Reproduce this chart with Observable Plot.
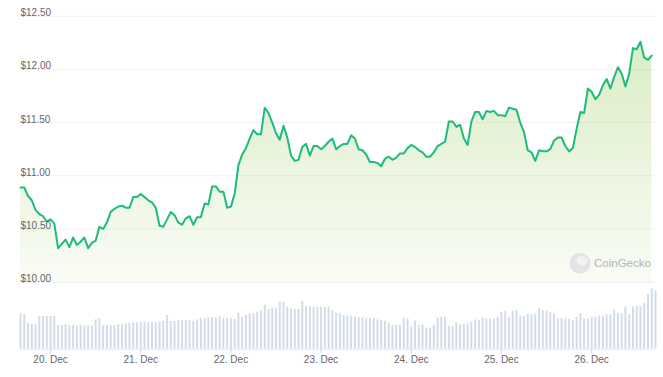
<!DOCTYPE html>
<html><head><meta charset="utf-8">
<script src="https://cdn.jsdelivr.net/npm/d3@7"></script>
<script src="https://cdn.jsdelivr.net/npm/@observablehq/plot@0.6"></script>
<style>
body{margin:0;background:#fff;font-family:"Liberation Sans",Arial,sans-serif}
#chart svg{display:block}
</style>
</head><body><div id="chart"></div>
<script>
// hourly series starting 19 Dec 16:00 UTC
const startUTC = Date.UTC(2023, 11, 19, 16);
const prices = [
10.89,10.89,10.81,10.77,10.68,10.64,10.62,10.57,10.59,10.55,
10.32,10.36,10.40,10.33,10.42,10.35,10.38,10.42,10.32,10.37,
10.39,10.52,10.50,10.56,10.66,10.69,10.71,10.72,10.70,10.70,
10.80,10.80,10.83,10.80,10.77,10.75,10.70,10.53,10.52,10.59,
10.66,10.63,10.56,10.54,10.60,10.62,10.54,10.61,10.61,10.74,
10.73,10.90,10.90,10.85,10.85,10.70,10.71,10.83,11.10,11.20,
11.26,11.35,11.43,11.39,11.39,11.64,11.59,11.50,11.40,11.34,
11.47,11.36,11.19,11.14,11.15,11.27,11.30,11.19,11.28,11.28,
11.25,11.28,11.32,11.35,11.25,11.28,11.30,11.30,11.38,11.35,
11.25,11.24,11.20,11.13,11.13,11.12,11.09,11.16,11.18,11.15,
11.17,11.21,11.21,11.26,11.29,11.27,11.24,11.22,11.18,11.18,
11.22,11.28,11.30,11.32,11.51,11.51,11.46,11.48,11.35,11.29,
11.51,11.60,11.60,11.53,11.61,11.60,11.61,11.57,11.57,11.56,
11.64,11.63,11.62,11.50,11.41,11.24,11.22,11.14,11.24,11.23,
11.23,11.25,11.33,11.36,11.36,11.28,11.23,11.26,11.44,11.60,
11.59,11.82,11.79,11.72,11.76,11.85,11.91,11.82,11.93,12.02,
11.96,11.84,11.96,12.20,12.19,12.26,12.11,12.09,12.13
];
const volumes = [
106,104,78,74,74,98,98,98,98,98,
71,71,74,71,71,69,71,69,69,69,
88,91,71,71,71,71,74,74,76,78,
79,79,81,81,79,79,79,81,83,101,
83,83,86,86,86,86,84,88,91,91,
94,94,93,98,93,93,91,89,108,96,
102,106,106,111,114,132,118,123,123,141,
141,126,121,119,119,143,128,126,126,126,
126,126,126,116,108,106,101,99,99,96,
94,94,93,93,93,88,86,84,79,71,
71,71,91,91,66,84,71,73,63,63,
71,93,96,96,68,68,78,73,74,76,
81,88,86,93,91,91,91,96,111,114,
96,113,116,98,98,104,104,106,121,116,
114,109,106,91,91,91,89,86,96,106,
91,91,96,96,99,99,103,104,118,108,
106,126,103,126,128,128,138,164,181,174
];
const priceTicks = [10, 10.5, 11, 11.5, 12, 12.5];
const dayTicks = ["2023-12-20","2023-12-21","2023-12-22","2023-12-23","2023-12-24","2023-12-25","2023-12-26"];

const HOUR = 3600e3;
const priceData = prices.map((p, i) => ({t: new Date(startUTC + i * HOUR), p}));
const volData = volumes.map((v, i) => ({t: new Date(startUTC + i * HOUR), v}));
const xDomain = [new Date(startUTC), new Date(startUTC + 169 * HOUR)];
const dayDates = dayTicks.map(d => new Date(d + "T00:00:00Z"));

const NS = "http://www.w3.org/2000/svg";
function gradientDefs(index, scales, values, dims) {
  const defs = document.createElementNS(NS, "defs");
  const g = document.createElementNS(NS, "linearGradient");
  g.setAttribute("id", "pg");
  g.setAttribute("gradientUnits", "userSpaceOnUse");
  g.setAttribute("x1", 0); g.setAttribute("x2", 0);
  g.setAttribute("y1", scales.y(12.5)); g.setAttribute("y2", scales.y(10));
  [[0, 0.34], [1, 0.05]].forEach(([o, a]) => {
    const s = document.createElementNS(NS, "stop");
    s.setAttribute("offset", o);
    s.setAttribute("stop-color", "#8dc647");
    s.setAttribute("stop-opacity", a);
    g.appendChild(s);
  });
  defs.appendChild(g);
  return defs;
}
function watermark(index, scales, values, dims) {
  const g = document.createElementNS(NS, "g");
  const rx = dims.width - dims.marginRight, by = dims.height - dims.marginBottom;
  const c = document.createElementNS(NS, "circle");
  c.setAttribute("cx", rx - 75); c.setAttribute("cy", by - 18.5); c.setAttribute("r", 10.5);
  c.setAttribute("fill", "#e4e4e4");
  g.appendChild(c);
  const c2 = document.createElementNS(NS, "ellipse");
  c2.setAttribute("cx", rx - 73); c2.setAttribute("cy", by - 21); c2.setAttribute("rx", 5.5); c2.setAttribute("ry", 4.5);
  c2.setAttribute("fill", "#f2f2f2");
  g.appendChild(c2);
  const t = document.createElementNS(NS, "text");
  t.setAttribute("x", rx - 61); t.setAttribute("y", by - 14.5);
  t.setAttribute("text-anchor", "start");
  t.setAttribute("font-size", 11.5); t.setAttribute("fill", "#b3b3b3");
  t.textContent = "CoinGecko";
  g.appendChild(t);
  return g;
}

const chartStyle = {fontFamily: '"Liberation Sans", Arial, sans-serif', fontSize: "10px", color: "#666", background: "#fff"};

const pricePlot = Plot.plot({
  width: 663, height: 284,
  marginLeft: 20, marginRight: 8, marginTop: 15.7, marginBottom: 2.3,
  style: chartStyle,
  x: {type: "utc", domain: xDomain, axis: null},
  y: {domain: [10, 12.5], axis: null},
  marks: [
    gradientDefs,
    Plot.ruleY(priceTicks.filter(d => d !== 10), {stroke: "#f0f0f0"}),
    Plot.ruleY([10], {stroke: "#e8ecf3"}),
    Plot.areaY(priceData, {x: "t", y1: 10, y2: "p", fill: "url(#pg)"}),
    Plot.lineY(priceData, {x: "t", y: "p", stroke: "#1dbb7c", strokeWidth: 2, strokeLinejoin: "round"}),
    Plot.text(priceTicks, {y: d => d, text: d => "$" + d.toFixed(2), frameAnchor: "left", textAnchor: "start", lineAnchor: "bottom", dy: 0, fill: "#666"}),
    watermark
  ]
});

const volumePlot = Plot.plot({
  width: 663, height: 93,
  marginLeft: 20, marginRight: 8, marginTop: 0, marginBottom: 28.3,
  style: chartStyle,
  x: {type: "utc", domain: xDomain},
  y: {domain: [0, 194], axis: null},
  marks: [
    Plot.ruleX(volData, {x: "t", y1: 0, y2: "v", stroke: "#d3dce8", strokeWidth: 2}),
    Plot.ruleY([0], {stroke: "#e6e9f0"}),
    Plot.axisX(dayDates, {tickSize: 5, tickPadding: 2, stroke: "#ccd6eb", fill: "#666", tickFormat: d3.utcFormat("%-d. %b"), label: null})
  ]
});

document.getElementById("chart").append(pricePlot, volumePlot);
</script>
</body></html>
